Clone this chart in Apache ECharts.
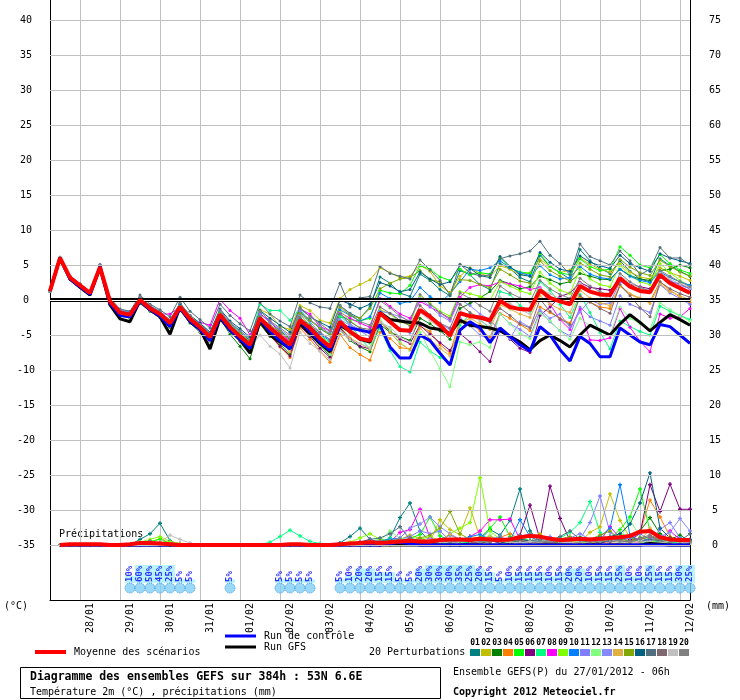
<!DOCTYPE html>
<html>
<head>
<meta charset="utf-8">
<title>Diagramme des ensembles GEFS</title>
<script src="https://cdn.jsdelivr.net/npm/echarts@6/dist/echarts.min.js"></script>
<style>
html, body { margin: 0; padding: 0; background: #fff; }
#chart { width: 740px; height: 700px; }
</style>
</head>
<body>
<div id="chart"></div>
<script>
// echeances : toutes les 6h depuis le run du 27/01/2012 06h (0 -> 384h)
var steps = [];
for (var h = 0; h <= 384; h += 6) steps.push(h + 'h');

// une etiquette par jour (pas 06h)
var dateLabels = ['28/01', '29/01', '30/01', '31/01', '01/02', '02/02', '03/02', '04/02',
                  '05/02', '06/02', '07/02', '08/02', '09/02', '10/02', '11/02', '12/02'];
var tempTicks = [-35, -30, -25, -20, -15, -10, -5, 0, 5, 10, 15, 20, 25, 30, 35, 40];
var mmTicks = [0, 5, 10, 15, 20, 25, 30, 35, 40, 45, 50, 55, 60, 65, 70, 75];

// temperature 2m (degC)
var mean = [1.3, 6.0, 3.2, 2.1, 1.0, 4.7, -0.2, -1.8, -2.1, 0.0, -1.2, -2.0, -3.3, -1.0, -2.7, -3.9, -5.3, -2.1, -3.9, -5.2,
  -6.4, -2.6, -4.0, -5.2, -6.4, -2.9, -4.0, -5.5, -6.7, -3.1, -4.5, -5.5, -5.8, -1.9, -3.1, -4.3, -4.4, -1.4, -2.4, -3.6,
  -5.1, -1.9, -2.3, -2.5, -2.9, -0.1, -1.0, -1.3, -1.4, 1.4, 0.3, -0.2, -0.6, 2.0, 1.2, 0.8, 0.7, 3.1, 1.9, 1.3,
  1.1, 3.6, 2.4, 1.7, 1.0];
var control = [1.3, 6.0, 3.0, 1.9, 0.8, 4.8, -0.5, -2.2, -2.4, -0.2, -1.4, -2.3, -3.8, -1.2, -3.0, -4.2, -5.8, -2.4, -4.3, -5.6,
  -6.9, -2.8, -4.5, -5.8, -7.0, -3.0, -4.5, -6.0, -7.2, -3.6, -4.0, -4.3, -4.6, -3.6, -6.7, -8.3, -8.3, -5.0, -5.8, -7.6,
  -9.3, -4.3, -3.1, -4.0, -6.1, -4.0, -5.2, -6.4, -7.3, -3.8, -5.0, -7.1, -8.7, -5.2, -6.2, -8.1, -8.1, -4.0, -5.0, -6.0,
  -6.4, -3.5, -3.8, -5.0, -6.2];
var gfs = [1.3, 6.0, 3.0, 1.8, 0.7, 4.6, -0.7, -2.7, -3.1, -0.1, -1.4, -2.4, -4.9, -1.0, -3.1, -4.2, -7.0, -2.6, -4.3, -5.7,
  -7.6, -3.0, -5.0, -6.0, -6.9, -3.3, -4.8, -6.2, -7.4, -3.6, -4.5, -5.6, -6.0, -1.8, -2.8, -3.0, -3.2, -3.3, -4.0, -4.2,
  -4.8, -2.9, -3.6, -3.8, -4.0, -4.4, -5.2, -6.0, -7.1, -5.8, -5.0, -5.8, -6.7, -5.0, -3.6, -4.3, -5.0, -3.4, -2.1, -3.2,
  -4.4, -3.2, -2.1, -2.8, -3.6];

var t01 = [1.3, 5.9, 3.4, 2.3, 1.2, 4.9, 0.1, -1.6, -1.9, 0.3, -0.9, -1.8, -3.0, -0.6, -2.4, -3.6, -4.9, -1.6, -3.3, -4.6,
  -5.8, -1.9, -3.2, -4.4, -5.5, -1.8, -2.8, -4.1, -5.0, -0.8, -1.9, -2.6, -1.0, 3.3, 2.4, 1.0, 0.5, 3.7, 2.8, 1.5,
  0.6, 4.2, 3.6, 2.2, 1.5, 5.2, 4.5, 3.2, 2.6, 6.4, 4.8, 3.9, 3.0, 7.2, 5.6, 4.5, 3.8, 5.6, 4.1, 3.0, 2.6, 5.9, 4.9, 4.1, 3.4];
var t02 = [1.3, 6.1, 3.1, 2.0, 0.9, 4.6, -0.3, -2.0, -2.3, -0.2, -1.4, -2.2, -3.5, -1.2, -2.9, -4.1, -5.5, -2.3, -4.1, -5.6,
  -6.9, -1.4, -2.0, -3.8, -4.2, -0.8, -1.5, -2.9, -3.3, 0.2, 1.5, 2.2, 2.9, 4.6, 3.9, 3.2, 3.4, 5.0, 4.1, 2.0,
  1.1, 3.4, 4.6, 3.8, 3.3, 4.9, 4.4, 3.6, 3.9, 5.8, 4.8, 3.9, 4.3, 6.0, 5.1, 4.4, 4.0, 5.2, 4.0, 3.3, 3.0, 4.6, 3.9, 3.4, 2.8];
var t03 = [1.3, 5.9, 3.0, 1.9, 0.8, 4.5, -0.6, -2.2, -2.6, -0.5, -1.6, -2.5, -3.9, -1.5, -3.3, -4.6, -6.3, -2.6, -4.9, -6.6,
  -8.4, -3.5, -5.2, -6.3, -7.8, -3.8, -5.0, -6.5, -8.0, -4.2, -5.8, -6.7, -7.4, -3.5, -4.6, -5.2, -5.8, -2.6, -3.4, -4.4,
  -5.6, -1.2, -0.5, 0.3, 1.2, 2.8, 2.3, 1.6, 1.9, 3.4, 2.9, 2.3, 2.6, 3.8, 3.4, 3.0, 2.9, 4.4, 3.5, 3.0, 2.8, 4.2, 4.4, 5.0, 4.6];
var t04 = [1.3, 6.0, 3.3, 2.2, 1.1, 4.8, -0.1, -1.8, -2.0, 0.1, -1.1, -1.9, -3.2, -0.9, -2.6, -3.8, -5.2, -2.2, -4.1, -5.7,
  -6.8, -3.4, -5.1, -6.7, -8.2, -4.0, -5.6, -7.3, -8.9, -4.9, -6.8, -7.8, -8.6, -4.6, -5.5, -6.8, -7.0, -3.8, -4.5, -6.4,
  -7.6, -2.8, -3.2, -4.4, -5.3, -1.9, -2.6, -3.5, -4.4, -1.0, -1.8, -2.6, -3.3, 0.4, -0.3, -1.0, -1.2, 2.0, 0.8, 0.2, -0.2, 2.6, 1.4, 0.4, -0.4];
var t05 = [1.3, 6.0, 3.2, 2.0, 1.0, 4.7, -0.3, -1.9, -2.2, -0.1, -1.3, -2.1, -3.4, -1.1, -2.8, -4.0, -5.5, -2.2, -4.0, -5.3,
  -6.6, -2.7, -4.3, -5.6, -6.9, -3.1, -4.6, -5.9, -7.1, -2.4, -2.8, -3.0, -2.6, 1.4, 1.0, 0.9, 2.1, 4.9, 4.4, 3.3,
  2.8, 4.4, 3.6, 3.9, 3.7, 6.1, 4.6, 4.0, 3.8, 6.6, 4.8, 3.9, 3.6, 5.9, 4.8, 4.2, 4.4, 7.6, 6.4, 5.0, 4.6, 6.5, 5.2, 4.3, 3.8];
var t06 = [1.3, 6.0, 3.1, 2.0, 0.9, 4.6, -0.4, -2.0, -2.3, -0.2, -1.4, -2.3, -3.6, -1.3, -3.0, -4.3, -5.8, -2.5, -4.4, -5.9,
  -7.1, -3.3, -5.0, -6.6, -8.0, -3.7, -5.2, -6.9, -8.2, -4.0, -5.5, -6.6, -7.0, -3.2, -4.4, -5.6, -6.2, -3.6, -4.9, -6.1,
  -7.2, -4.8, -6.0, -7.4, -8.8, -4.2, -5.6, -6.9, -7.5, -2.2, -1.0, 0.5, 1.0, 2.5, 1.8, 1.6, 1.4, 3.0, 2.2, 1.9, 1.6, 3.2, 2.6, 2.3, 1.6];
var t07 = [1.3, 6.0, 3.2, 2.1, 1.0, 4.8, -0.1, -1.7, -2.0, 0.1, -1.1, -1.9, -3.1, -0.8, -2.5, -3.6, -5.0, -1.8, -3.5, -4.8,
  -5.9, -0.6, -1.5, -1.5, -2.9, -1.2, -3.4, -5.0, -6.1, -2.3, -3.5, -5.4, -7.0, -4.0, -7.2, -9.5, -10.3, -6.0, -7.3, -8.2,
  -9.0, -3.6, -2.0, -2.8, -4.1, 1.2, 0.8, -0.8, -1.6, 2.6, 1.4, -0.6, -2.5, 0.8, -1.8, -4.6, -7.0, -3.0, -3.8, -4.5, -5.0, -0.9, -1.6, -2.2, -2.8];
var t08 = [1.3, 6.0, 3.3, 2.2, 1.1, 4.9, 0.0, -1.7, -2.0, 0.1, -1.0, -2.0, -2.0, -1.0, -3.1, -3.2, -3.6, 0.1, -1.5, -2.6,
  -5.0, -2.0, -3.0, -4.8, -5.9, -1.3, -2.0, -3.8, -4.4, -1.8, -2.6, -3.3, -3.9, 0.2, -0.9, -2.0, -2.6, -0.2, -1.0, -1.8,
  -2.8, 0.4, 1.8, 2.2, 2.0, 2.6, 2.3, 2.0, 1.5, 1.8, -0.6, -2.8, -4.2, -1.3, -5.7, -5.8, -5.4, -1.2, -3.9, -5.9, -7.4, -2.0, -2.6, -2.4, -1.2];
var t09 = [1.3, 6.0, 3.2, 2.1, 1.0, 4.7, -0.3, -1.9, -2.2, 0.0, -1.2, -2.1, -3.4, -1.1, -2.9, -4.2, -5.6, -2.4, -4.1, -5.4,
  -6.7, -2.4, -3.8, -5.0, -6.2, -2.1, -3.6, -5.1, -6.3, -1.5, -3.0, -4.0, -4.6, -1.4, -2.0, -3.1, -3.6, 0.6, -0.5, -1.6,
  -2.3, 1.2, 0.9, 0.5, 0.0, 2.6, 2.0, 1.3, 0.9, 4.0, 2.4, 1.4, 0.9, 4.4, 3.0, 2.2, 1.9, 5.0, 3.5, 2.6, 2.2, 5.2, 3.9, 2.8, 2.0];
var t10 = [1.3, 6.0, 3.2, 2.1, 1.0, 4.7, -0.2, -1.8, -2.1, 0.0, -1.2, -2.0, -3.3, -1.0, -2.8, -4.0, -5.4, -2.0, -3.8, -5.0,
  -6.2, -2.5, -3.9, -5.0, -6.1, -2.6, -3.8, -4.9, -5.8, -1.4, -2.2, -3.0, -2.4, 1.0, 0.2, -0.5, -0.2, 1.8, 0.5, -0.4,
  0.9, 2.6, 4.4, 4.2, 4.6, 5.6, 4.6, 3.9, 3.5, 4.9, 3.6, 3.0, 3.2, 4.8, 3.7, 3.2, 3.0, 4.4, 3.4, 2.8, 2.5, 4.0, 3.2, 2.6, 2.1];
var t11 = [1.3, 6.1, 3.4, 2.3, 1.2, 5.1, 0.2, -1.4, -1.7, 0.4, -0.8, -1.6, -2.9, -0.6, -2.2, -3.4, -4.6, -1.6, -3.3, -4.4,
  -5.5, -2.0, -3.2, -4.2, -5.3, -1.6, -2.9, -3.8, -4.8, -1.9, -3.5, -4.2, -4.8, -1.6, -3.0, -4.1, -4.7, -1.6, -2.5, -3.4,
  -4.2, -2.6, -3.7, -5.0, -5.7, -2.0, -3.4, -4.2, -5.2, -1.6, -3.1, -4.4, -5.1, -1.0, -2.4, -3.0, -3.6, 0.6, -0.6, -1.2, -1.8, 2.2, 1.0, 0.2, -0.6];
var t12 = [1.3, 6.0, 3.2, 2.1, 1.0, 4.7, -0.2, -1.8, -2.1, 0.0, -1.2, -2.0, -3.3, -1.0, -2.7, -4.0, -5.5, -2.4, -4.2, -5.8,
  -7.0, -3.0, -4.6, -5.8, -7.0, -3.4, -5.0, -6.5, -7.8, -3.6, -4.8, -5.6, -6.2, -2.8, -4.3, -6.0, -7.2, -4.6, -7.3, -9.8,
  -12.4, -6.0, -6.4, -6.0, -6.8, -2.0, -3.4, -4.8, -5.5, -1.9, -3.0, -4.4, -5.6, -2.6, -3.7, -4.3, -5.0, -1.0, -2.6, -3.4, -4.2, -0.4, -1.4, -2.3, -3.0];
var t13 = [1.3, 5.9, 3.0, 2.0, 0.9, 4.6, -0.3, -2.0, -2.3, -0.1, -1.3, -2.2, -3.5, -1.1, -2.9, -4.1, -5.7, -2.4, -4.2, -5.6,
  -6.9, -2.9, -4.4, -5.6, -6.9, -2.1, -3.1, -4.7, -5.6, -2.8, -3.6, -4.4, -5.3, -1.6, -1.9, -2.4, -3.0, 0.2, -0.9, -2.2,
  -3.0, 0.1, -0.8, -2.0, -2.8, -4.5, -5.5, -3.1, -3.9, -1.4, -2.6, -2.0, -3.9, -1.7, 0.0, -0.6, -0.4, 2.6, 2.0, 1.4, 1.4, 3.3, 2.8, 2.1, 1.6];
var t14 = [1.3, 6.0, 3.1, 2.0, 1.0, 4.7, -0.3, -1.9, -2.2, -0.1, -1.3, -2.1, -3.4, -1.1, -2.8, -4.0, -5.4, -2.3, -4.1, -5.5,
  -6.8, -3.3, -4.9, -6.1, -7.4, -3.5, -5.0, -6.4, -7.5, -3.8, -5.4, -6.2, -7.0, -3.1, -4.6, -6.2, -7.1, -4.0, -5.6, -6.9,
  -8.0, -3.3, -2.6, -3.4, -4.2, -0.7, -1.3, -2.0, -2.5, 0.6, -0.6, -1.3, -1.8, 1.4, 0.3, -0.4, -0.8, 2.1, 0.9, 0.3, -0.5, 2.3, 1.2, 0.6, 0.0];
var t15 = [1.3, 6.0, 3.3, 2.2, 1.1, 4.8, 0.0, -1.7, -2.0, 0.2, -1.0, -1.9, -3.1, -0.9, -2.6, -3.7, -5.0, -1.9, -3.6, -4.8,
  -6.0, -2.4, -3.6, -4.5, -5.6, -1.9, -2.9, -4.0, -4.9, -1.0, -2.2, -2.6, -1.2, 1.6, 2.4, 3.0, 3.2, 4.2, 2.9, 2.6,
  0.8, 2.9, 2.8, 2.2, 1.8, 4.4, 3.6, 2.7, 2.4, 5.6, 4.2, 3.4, 2.7, 5.3, 4.4, 3.6, 3.3, 5.8, 4.7, 3.9, 3.5, 5.7, 4.8, 4.0, 3.4];
var t16 = [1.3, 6.0, 3.3, 2.2, 1.1, 4.8, 0.1, -1.6, -1.8, 0.3, -0.9, -1.7, -2.9, -0.5, -2.2, -3.3, -4.6, -1.3, -3.0, -4.1,
  -5.3, -1.5, -2.6, -3.6, -4.6, -1.1, -2.4, -3.2, -3.9, 0.0, -0.6, -1.2, -0.6, 2.5, 2.0, 1.2, 1.5, 4.0, 3.0, 2.2,
  2.6, 5.0, 4.5, 3.5, 3.2, 6.2, 4.8, 3.6, 3.4, 6.8, 5.4, 4.4, 4.1, 6.3, 5.4, 4.9, 4.5, 6.4, 5.2, 4.6, 4.1, 6.6, 6.0, 5.6, 5.2];
var t17 = [1.3, 6.0, 3.3, 2.3, 1.2, 5.0, 0.3, -1.3, -1.6, 0.7, -0.6, -1.4, -2.4, 0.4, -1.6, -2.8, -4.0, -0.6, -2.2, -3.4,
  -4.4, -0.4, -2.0, -3.0, -3.8, 0.7, -0.4, -1.0, -1.2, 2.4, -1.0, 0.3, 0.5, 4.8, 3.8, 3.4, 3.0, 5.7, 4.3, 2.8,
  0.7, 5.1, 3.9, 3.4, 3.6, 5.9, 6.3, 6.6, 7.0, 8.4, 6.4, 5.2, 3.6, 8.0, 6.2, 5.6, 5.0, 7.0, 5.6, 3.6, 4.4, 7.5, 6.0, 6.0, 5.0];
var t18 = [1.3, 6.0, 3.2, 2.1, 1.0, 4.7, -0.2, -1.8, -2.1, 0.0, -1.2, -2.0, -3.3, -0.9, -2.6, -3.9, -5.3, -2.0, -3.8, -5.1,
  -6.3, -2.4, -3.7, -4.7, -5.7, -2.5, -3.6, -4.6, -5.7, -2.0, -3.1, -4.0, -4.2, -1.0, -1.9, -2.9, -3.7, -0.8, -2.1, -3.3,
  -4.0, -0.6, -1.8, -2.6, -3.2, -1.2, -2.2, -3.4, -4.0, 0.1, -1.6, -2.7, -3.5, 0.6, -0.3, -1.2, -1.9, 2.2, 0.6, -1.1, -2.4, 2.6, 1.6, 0.9, 0.4];
var t19 = [1.3, 6.0, 3.1, 1.9, 0.8, 4.6, -0.4, -2.1, -2.5, -0.3, -1.5, -2.3, -3.8, -1.3, -3.1, -4.5, -6.1, -2.6, -4.5, -5.0,
  -6.9, -5.0, -6.6, -7.7, -9.7, -4.6, -6.2, -7.3, -8.5, -4.4, -5.7, -6.2, -6.8, -3.2, -3.9, -5.3, -6.0, -1.8, -2.9, -4.0,
  -5.0, -1.6, -2.2, -3.0, -3.8, 0.4, -0.5, -1.4, -2.0, 1.6, 0.9, 0.2, -0.4, 2.4, 1.4, 0.6, 0.2, 3.5, 2.4, 1.7, 1.2, 3.9, 3.0, 2.3, 1.8];
var t20 = [1.3, 6.1, 3.4, 2.2, 1.2, 5.0, 0.1, -1.5, -1.9, 0.4, -0.8, -1.7, -2.9, -0.4, -2.2, -3.5, -4.8, -1.5, -3.2, -4.4,
  -5.6, -1.6, -3.0, -4.0, -5.0, -1.2, -2.4, -3.4, -4.4, -0.8, -2.0, -3.1, -3.6, -0.1, -1.1, -2.3, -3.1, 0.8, -0.6, -1.8,
  -2.6, 1.0, 0.2, -0.8, -1.6, 2.0, 1.0, 0.3, -0.3, 2.8, 1.6, 0.8, 0.2, 3.1, 2.0, 1.2, 0.6, 3.8, 2.6, 1.8, 1.3, 4.2, 3.4, 2.6, 1.9];

// precipitations sur 6h (mm), pas de cumul a l'echeance 0
var rainMean = [null, 0.0, 0.1, 0.1, 0.1, 0.1, 0.0, 0.0, 0.1, 0.3, 0.3, 0.2, 0.1, 0.0, 0.0, 0.0, 0.0, 0.0, 0.0, 0.0,
  0.0, 0.0, 0.0, 0.0, 0.1, 0.1, 0.0, 0.0, 0.0, 0.1, 0.2, 0.3, 0.4, 0.3, 0.4, 0.5, 0.6, 0.5, 0.5, 0.7,
  0.8, 0.8, 0.7, 0.9, 0.8, 0.7, 0.8, 1.1, 1.3, 1.2, 0.9, 0.7, 0.8, 0.9, 0.8, 0.9, 1.0, 1.1, 1.3, 1.9, 2.0, 1.1, 0.8, 0.7, 0.7];
var rainControl = [null, 0, 0, 0, 0, 0, 0, 0, 0, 0, 0, 0, 0, 0, 0, 0, 0, 0, 0, 0, 0, 0, 0, 0, 0, 0, 0, 0, 0, 0,
  0, 0, 0, 0, 0.2, 0.4, 0.2, 0, 0, 0, 0, 0, 0, 0, 0, 0, 0, 0, 0, 0, 0, 0, 0, 0, 0, 0, 0, 0, 0, 0, 0, 0, 0, 0, 0];
var rainGfs = [null, 0, 0, 0, 0, 0, 0, 0, 0, 0, 0, 0, 0, 0, 0, 0, 0, 0, 0, 0, 0, 0, 0, 0, 0, 0, 0, 0, 0, 0,
  0, 0, 0, 0, 0, 0, 0, 0, 0, 0, 0, 0, 0, 0, 0, 0, 0, 0, 0, 0, 0, 0, 0, 0, 0, 0, 0, 0, 0, 0, 0.2, 0.1, 0, 0, 0];

var r01 = [null, 0, 0, 0, 0, 0, 0, 0, 0, 0.8, 1.6, 3.1, 0.6, 0, 0, 0, 0, 0, 0, 0, 0, 0, 0, 0, 0, 0, 0, 0, 0, 0.3,
  1.2, 2.4, 0.8, 0.2, 1.0, 3.9, 6.0, 2.0, 0.5, 0.2, 0, 0, 0.3, 0.8, 2.2, 1.4, 3.5, 8.0, 2.0, 0.4,
  0.2, 0.6, 1.0, 0.4, 0.3, 0.8, 1.0, 0.6, 1.0, 0.5, 0.3, 0.2, 1.2, 0.6, 0.4];
var r02 = [null, 0, 0, 0, 0, 0, 0, 0, 0, 0, 0.4, 0.9, 0.3, 0, 0, 0, 0, 0, 0, 0, 0, 0, 0, 0, 0, 0, 0, 0, 0, 0,
  0, 0.3, 0.6, 0.2, 0, 0.8, 1.4, 0.9, 0.5, 3.6, 2.2, 1.5, 5.3, 1.1, 1.0, 0.4, 0.6, 0.8, 0.5, 1.6,
  0.5, 0.2, 0.3, 0.4, 1.8, 2.6, 7.3, 3.5, 1.0, 0.6, 0.8, 0.4, 0.3, 0.6, 0.2];
var r03 = [null, 0, 0, 0, 0, 0, 0, 0, 0, 0, 0, 0.2, 0, 0, 0, 0, 0, 0, 0, 0, 0, 0, 0, 0, 0, 0, 0, 0, 0, 0,
  0, 0, 0.2, 0.5, 0.3, 0.6, 0.4, 0.8, 0.4, 0.2, 0.4, 0.6, 0.4, 0.2, 0.6, 0.4, 0.2, 0.5, 0.4, 0.3,
  0.2, 0.4, 0.6, 0.3, 0.5, 0.3, 0.6, 0.8, 1.2, 2.0, 3.9, 1.6, 0.8, 1.4, 0.5];
var r04 = [null, 0, 0, 0, 0, 0, 0, 0, 0, 0, 0, 0, 0, 0, 0, 0, 0, 0, 0, 0, 0, 0, 0, 0, 0, 0, 0, 0, 0, 0,
  0, 0, 0, 0.2, 0.4, 0.3, 0.8, 0.6, 0.3, 0.2, 0.5, 0.4, 1.2, 1.0, 0.6, 1.1, 1.6, 0.8, 0.4, 0.3,
  0.2, 0.3, 0.6, 0.4, 0.2, 0.6, 0.3, 0.2, 0.4, 1.8, 6.4, 4.0, 1.2, 0.6, 0.4];
var r05 = [null, 0, 0, 0, 0, 0, 0, 0, 0, 0.4, 0.5, 0.8, 0.2, 0, 0, 0, 0, 0, 0, 0, 0, 0, 0, 0, 0, 0, 0, 0, 0, 0,
  0, 0.2, 0.5, 0.8, 0.6, 0.4, 0.9, 1.5, 4.0, 1.3, 0.6, 0.4, 0.6, 1.0, 2.4, 4.0, 1.2, 0.8, 0.6, 0.4,
  0.3, 0.6, 0.8, 1.1, 0.4, 0.6, 0.9, 2.2, 4.0, 8.0, 2.0, 1.0, 0.5, 0.8, 0.4];
var r06 = [null, 0, 0, 0, 0, 0, 0, 0, 0, 0, 0, 0, 0, 0, 0, 0, 0, 0, 0, 0, 0, 0, 0, 0, 0, 0, 0, 0, 0, 0,
  0, 0, 0, 0, 0.2, 0.4, 0.3, 0.2, 0.2, 0.4, 0.6, 0.3, 0.2, 0.4, 0.6, 0.3, 0.8, 1.4, 5.7, 0.8,
  8.4, 3.8, 0.6, 0.4, 0.2, 0.3, 0.6, 1.2, 0.8, 1.6, 8.6, 4.8, 8.7, 5.1, 5.1];
var r07 = [null, 0, 0, 0, 0, 0, 0, 0, 0, 0, 0, 0, 0, 0, 0, 0, 0, 0, 0, 0, 0, 0, 0.4, 1.2, 2.1, 1.3, 0.5, 0.2, 0, 0,
  0, 0.3, 0.8, 0.4, 1.0, 0.6, 0.4, 0.8, 0.5, 0.3, 0.2, 0.4, 0.3, 0.6, 0.4, 0.8, 0.5, 1.2, 0.6, 0.4,
  0.6, 1.0, 1.8, 3.2, 6.2, 1.8, 0.6, 0.4, 0.5, 0.8, 1.2, 0.6, 0.4, 0.3, 0.6];
var r08 = [null, 0, 0, 0, 0, 0, 0, 0, 0, 0, 0, 0, 0.4, 0.2, 0, 0, 0, 0, 0, 0, 0, 0, 0, 0, 0, 0, 0, 0, 0, 0,
  0.2, 0.4, 0.8, 0.3, 0.4, 1.8, 2.2, 5.1, 1.0, 0.6, 0.3, 0.5, 1.2, 2.0, 3.6, 3.6, 3.7, 0.8, 0.5, 0.4,
  0.3, 0.6, 1.0, 0.8, 0.4, 0.6, 2.6, 1.0, 0.5, 0.4, 1.0, 0.6, 2.0, 0.8, 0.4];
var r09 = [null, 0, 0, 0, 0, 0, 0, 0, 0, 0.4, 0.8, 1.2, 0.5, 0.2, 0, 0, 0, 0, 0, 0, 0, 0, 0, 0, 0, 0, 0, 0, 0, 0,
  0.4, 1.0, 1.6, 0.8, 0.4, 0.6, 0.4, 0.8, 1.2, 0.6, 1.6, 2.4, 3.2, 9.6, 2.0, 0.8, 0.4, 0.6, 0.4, 0.3,
  0.4, 0.8, 0.6, 0.4, 0.3, 0.6, 0.8, 1.6, 1.2, 0.4, 0.6, 0.3, 0.8, 0.4, 0.6];
var r10 = [null, 0, 0, 0, 0, 0, 0, 0, 0, 0, 0, 0, 0, 0, 0, 0, 0, 0, 0, 0, 0, 0, 0, 0, 0, 0, 0, 0, 0, 0,
  0, 0.2, 0.4, 0.6, 0.8, 1.0, 0.6, 0.4, 0.6, 0.8, 1.4, 0.8, 1.2, 1.5, 0.8, 0.4, 0.6, 3.6, 1.2, 0.5,
  0.4, 0.6, 0.8, 0.4, 0.6, 1.2, 2.4, 8.6, 1.4, 0.6, 0.8, 0.4, 0.6, 1.0, 0.3];
var r11 = [null, 0, 0, 0, 0, 0, 0, 0, 0, 0, 0, 0, 0, 0, 0, 0, 0, 0, 0, 0, 0, 0, 0, 0, 0, 0, 0, 0, 0, 0,
  0, 0, 0.3, 0.5, 0.4, 0.8, 1.2, 2.0, 1.6, 2.0, 0.6, 0.4, 0.8, 0.6, 0.4, 0.8, 1.0, 0.6, 0.4, 0.8,
  1.2, 0.6, 0.4, 0.8, 3.2, 7.0, 1.8, 0.8, 0.6, 0.5, 0.6, 2.2, 3.2, 1.0, 0.6];
var r12 = [null, 0, 0, 0, 0, 0, 0, 0, 0, 0, 0, 0, 0, 0, 0, 0, 0, 0, 0, 0, 0, 0, 0, 0, 0, 0, 0, 0, 0, 0,
  0, 0.3, 0.4, 0.6, 2.0, 1.0, 0.6, 0.4, 0.3, 0.5, 0.6, 0.4, 0.6, 0.8, 1.4, 0.6, 0.4, 0.3, 0.5, 0.6,
  0.4, 0.8, 0.6, 0.5, 0.4, 0.6, 1.0, 0.8, 3.6, 1.2, 0.8, 0.5, 0.4, 0.6, 0.3];
var r13 = [null, 0, 0, 0, 0, 0, 0, 0, 0, 0, 0, 0, 0, 0, 0, 0, 0, 0, 0, 0, 0, 0, 0, 0, 0, 0, 0, 0, 0, 0,
  0, 0, 0.2, 0.4, 0.6, 1.0, 2.4, 3.0, 4.0, 2.6, 1.6, 0.8, 0.6, 0.4, 0.8, 1.2, 0.6, 0.4, 0.3, 0.6,
  0.4, 0.6, 1.0, 1.6, 0.8, 0.6, 0.4, 0.8, 1.0, 1.6, 0.8, 1.2, 1.8, 3.8, 2.0];
var r14 = [null, 0, 0, 0, 0, 0, 0, 0, 0, 0, 0, 0, 0, 0, 0, 0, 0, 0, 0, 0, 0, 0, 0, 0, 0, 0, 0, 0, 0, 0,
  0, 0, 0, 0.2, 0.4, 0.3, 0.5, 0.8, 0.4, 0.6, 1.5, 0.6, 0.4, 0.8, 1.2, 0.6, 0.4, 0.6, 0.4, 0.3,
  0.5, 0.8, 0.6, 0.4, 0.6, 0.4, 0.8, 0.6, 0.4, 0.5, 2.4, 1.0, 0.6, 0.4, 0.3];
var r15 = [null, 0, 0, 0, 0, 0, 0, 0, 0, 0, 0, 0, 0, 0, 0, 0, 0, 0, 0, 0, 0, 0, 0, 0, 0, 0, 0, 0, 0, 0,
  0, 0, 0.2, 0.4, 0.6, 0.8, 0.6, 1.0, 1.4, 2.4, 4.8, 1.6, 0.8, 0.6, 0.4, 1.0, 0.6, 0.8, 0.6, 0.4,
  0.6, 0.8, 1.2, 0.6, 0.8, 1.4, 2.0, 0.8, 0.6, 0.8, 1.2, 0.6, 0.4, 0.8, 0.5];
var r16 = [null, 0, 0, 0, 0, 0, 0, 0, 0, 0, 0, 0, 0, 0, 0, 0, 0, 0, 0, 0, 0, 0, 0, 0, 0, 0, 0, 0, 0, 0,
  0, 0, 0, 0.2, 0.4, 0.6, 0.4, 0.3, 0.6, 0.4, 0.3, 0.6, 0.4, 0.8, 0.6, 0.4, 0.6, 0.8, 0.6, 0.4,
  0.6, 0.4, 0.8, 1.0, 0.6, 0.8, 1.2, 1.6, 3.0, 6.0, 10.3, 2.4, 1.0, 0.6, 0.8];
var r17 = [null, 0, 0, 0, 0, 0, 0, 0, 0, 0, 0, 0, 0, 0, 0, 0, 0, 0, 0, 0, 0, 0, 0, 0, 0, 0, 0, 0, 0, 0,
  0, 0.4, 0.8, 1.0, 1.6, 2.6, 0.8, 0.6, 0.4, 0.6, 0.4, 0.8, 0.6, 0.4, 0.8, 1.0, 0.6, 0.4, 0.6, 0.8,
  0.6, 1.2, 2.0, 0.8, 0.6, 0.4, 0.6, 0.8, 1.2, 0.6, 0.8, 0.6, 0.4, 0.6, 1.6];
var r18 = [null, 0, 0, 0, 0, 0, 0, 0, 0, 0, 0, 0, 0, 0, 0, 0, 0, 0, 0, 0, 0, 0, 0, 0, 0, 0, 0, 0, 0, 0,
  0, 0, 0.2, 0.3, 0.4, 0.6, 1.0, 0.6, 0.4, 0.3, 0.5, 0.8, 0.4, 0.3, 0.6, 0.4, 0.8, 0.6, 0.4, 0.3,
  0.4, 0.6, 0.8, 0.6, 0.4, 0.8, 0.6, 0.4, 0.6, 1.0, 1.4, 0.8, 0.6, 0.4, 0.6];
var r19 = [null, 0, 0, 0, 0, 0, 0, 0, 0, 0, 0, 0.4, 1.4, 0.8, 0.3, 0, 0, 0, 0, 0, 0, 0, 0, 0, 0, 0, 0, 0, 0, 0,
  0, 0, 0.2, 0.4, 0.3, 0.5, 0.4, 0.6, 0.8, 0.4, 0.3, 0.5, 0.6, 0.4, 0.8, 0.6, 0.4, 0.3, 0.5, 0.4,
  0.6, 0.4, 0.3, 0.5, 0.4, 0.6, 0.8, 0.4, 0.3, 0.6, 0.4, 0.3, 0.6, 0.4, 0.3];
var r20 = [null, 0, 0, 0, 0, 0, 0, 0, 0, 0.3, 0.6, 0.2, 0, 0, 0, 0, 0, 0, 0, 0, 0, 0, 0, 0, 0, 0, 0, 0, 0, 0,
  0, 0, 0.3, 0.6, 0.4, 0.8, 0.5, 0.4, 0.6, 0.8, 0.4, 0.6, 0.8, 0.5, 0.4, 0.8, 1.0, 1.2, 1.6, 0.6,
  0.4, 0.6, 0.8, 0.6, 0.4, 0.6, 0.8, 0.6, 0.4, 0.8, 1.2, 0.8, 0.6, 0.5, 0.4];

// probabilite de precipitation (%) par echeance
var rainProb = [null, null, null, null, null, null, null, null, 10, 60, 50, 45, 25, 5, 5, null, null, null, 5, null,
  null, null, null, 5, 5, 5, 5, null, null, 5, 10, 20, 20, 15, 15, 5, 5, 20, 30, 30,
  30, 35, 25, 20, 15, 5, 10, 15, 15, 15, 10, 15, 20, 20, 10, 15, 15, 25, 10, 10,
  25, 15, 15, 30, 25];

var pertColors = ['#008080', '#c0c000', '#008000', '#ff8000', '#00ff00', '#800080', '#00ff80', '#ff00ff', '#80ff00', '#0080ff',
                  '#8080ff', '#80ff80', '#8888ff', '#e0b040', '#80a800', '#006080', '#507080', '#806870', '#c0c0c0', '#808080'];
var pertTemp = [t01, t02, t03, t04, t05, t06, t07, t08, t09, t10, t11, t12, t13, t14, t15, t16, t17, t18, t19, t20];
var pertRain = [r01, r02, r03, r04, r05, r06, r07, r08, r09, r10, r11, r12, r13, r14, r15, r16, r17, r18, r19, r20];

var MONO = '"DejaVu Sans Mono", "Liberation Mono", monospace';
var T_MIN = -42.86, T_MAX = 42.86;       // 600px a 7px par degre
var MM_MIN = T_MIN + 35, MM_MAX = T_MAX + 35; // 0 mm au niveau de -35 degC
var PLUS = 'path://M1,0H2V1H3V2H2V3H1V2H0V1H1Z';

var chart = echarts.init(document.getElementById('chart'));

var series = [];
// grille horizontale
series.push({
	type: 'line', data: [], z: 1, silent: true,
	markLine: {
		silent: true, symbol: ['none', 'none'], label: { show: false }, animation: false,
		lineStyle: { color: '#c0c0c0', width: 1, type: 'solid' },
		data: tempTicks.map(function (v) { return { yAxis: v }; })
	}
});
// ligne du zero
series.push({
	type: 'line', data: [], z: 1, silent: true,
	markLine: {
		silent: true, symbol: ['none', 'none'], label: { show: false }, animation: false,
		lineStyle: { color: '#000', width: 4, type: 'solid' },
		data: [{ yAxis: 0 }]
	}
});
series.push({
	type: 'line', data: [], z: 1, silent: true,
	markLine: {
		silent: true, symbol: ['none', 'none'], label: { show: false }, animation: false,
		lineStyle: { color: '#ffffff', width: 1, type: 'solid' },
		data: [{ yAxis: 0 }]
	}
});

pertTemp.forEach(function (d, i) {
	series.push({
		name: 'P' + (i + 1), type: 'line', data: d, z: 2, silent: true,
		symbol: 'circle', symbolSize: 3, showSymbol: true,
		lineStyle: { color: pertColors[i], width: 1 },
		itemStyle: { color: pertColors[i] }
	});
});
pertRain.forEach(function (d, i) {
	series.push({
		name: 'R' + (i + 1), type: 'line', data: d, yAxisIndex: 1, z: 2, silent: true,
		symbol: PLUS, symbolSize: 4, showSymbol: true,
		lineStyle: { color: pertColors[i], width: 1 },
		itemStyle: { color: pertColors[i] }
	});
});
series.push({ name: 'Run GFS', type: 'line', data: gfs, z: 3, silent: true, symbol: 'none', lineStyle: { color: '#000', width: 3 } });
series.push({ name: 'Run GFS pr', type: 'line', data: rainGfs, yAxisIndex: 1, z: 3, silent: true, symbol: 'none', lineStyle: { color: '#000', width: 3 } });
series.push({ name: 'Run de contrôle', type: 'line', data: control, z: 4, silent: true, symbol: 'none', lineStyle: { color: '#0000ff', width: 3 } });
series.push({ name: 'Contrôle pr', type: 'line', data: rainControl, yAxisIndex: 1, z: 4, silent: true, symbol: 'none', lineStyle: { color: '#0000ff', width: 3 } });
series.push({ name: 'Moyenne des scénarios', type: 'line', data: mean, z: 5, silent: true, symbol: 'none', lineStyle: { color: '#ff0000', width: 4 } });
series.push({ name: 'Moyenne pr', type: 'line', data: rainMean, yAxisIndex: 1, z: 5, silent: true, symbol: 'none', lineStyle: { color: '#ff0000', width: 4 } });

// bandeau des probabilites : fond cyan, nuages, pourcentages
var cloudPts = [], probPts = [];
rainProb.forEach(function (p, i) {
	if (p !== null) {
		cloudPts.push([i, -7, p]);
		probPts.push([i, 1.4, p]);
	}
});
// fond cyan : hauteur proportionnelle a la probabilite (25 % et plus = bandeau plein)
series.push({
	type: 'scatter', xAxisIndex: 1, yAxisIndex: 2, data: probPts, silent: true, z: 2, clip: false,
	symbol: 'rect', symbolKeepAspect: false,
	symbolSize: function (v) { return [10, Math.min(v[2], 25) * 0.72]; },
	symbolOffset: function (v) { return [0, -Math.min(v[2], 25) * 0.36 + 1]; },
	itemStyle: { color: '#b8f4ff', opacity: 1 }
});
series.push({
	type: 'scatter', xAxisIndex: 1, yAxisIndex: 2, data: cloudPts, silent: true, z: 3, clip: false,
	symbol: 'circle', symbolSize: 10,
	itemStyle: { color: '#80d0f4', borderColor: '#1f80dd', borderWidth: 1, borderType: 'dotted' }
});
series.push({
	type: 'scatter', xAxisIndex: 1, yAxisIndex: 2, data: probPts, silent: true, z: 4, clip: false,
	symbolSize: 0,
	label: {
		show: true, position: [0, 0], rotate: 90, align: 'left', verticalAlign: 'middle',
		color: '#0000ff', fontFamily: MONO, fontWeight: 'bold', fontSize: 9,
		formatter: function (p) { return p.value[2] + '%'; }
	}
});

// legende et cartouche
var graphic = [
	{ type: 'text', x: 4, y: 606, style: { text: '(°C)', font: '10px ' + MONO, fill: '#000', textVerticalAlign: 'middle' } },
	{ type: 'text', x: 706, y: 606, style: { text: '(mm)', font: '10px ' + MONO, fill: '#000', textVerticalAlign: 'middle' } },
	{ type: 'text', x: 59, y: 534, style: { text: 'Précipitations', font: '10px ' + MONO, fill: '#000', textVerticalAlign: 'middle' } },
	{ type: 'rect', shape: { x: 35, y: 650, width: 31, height: 4 }, style: { fill: '#ff0000' } },
	{ type: 'text', x: 74, y: 652, style: { text: 'Moyenne des scénarios', font: '10px ' + MONO, fill: '#000', textVerticalAlign: 'middle' } },
	{ type: 'rect', shape: { x: 225, y: 634.5, width: 31, height: 3 }, style: { fill: '#0000ff' } },
	{ type: 'text', x: 264, y: 636, style: { text: 'Run de contrôle', font: '10px ' + MONO, fill: '#000', textVerticalAlign: 'middle' } },
	{ type: 'rect', shape: { x: 225, y: 645.5, width: 31, height: 3 }, style: { fill: '#000' } },
	{ type: 'text', x: 264, y: 647, style: { text: 'Run GFS', font: '10px ' + MONO, fill: '#000', textVerticalAlign: 'middle' } },
	{ type: 'text', x: 369, y: 652, style: { text: '20 Perturbations', font: '10px ' + MONO, fill: '#000', textVerticalAlign: 'middle' } },
	{ type: 'rect', shape: { x: 20.5, y: 667.5, width: 420, height: 31 }, style: { fill: 'none', stroke: '#000', lineWidth: 1 } },
	{ type: 'text', x: 30, y: 677, style: { text: 'Diagramme des ensembles GEFS sur 384h : 53N 6.6E', font: 'bold 11.5px ' + MONO, fill: '#000', textVerticalAlign: 'middle' } },
	{ type: 'text', x: 30, y: 692, style: { text: 'Température 2m (°C) , précipitations (mm)', font: '10px ' + MONO, fill: '#000', textVerticalAlign: 'middle' } },
	{ type: 'text', x: 453, y: 672, style: { text: 'Ensemble GEFS(P) du 27/01/2012 - 06h', font: '10px ' + MONO, fill: '#000', textVerticalAlign: 'middle' } },
	{ type: 'text', x: 453, y: 692, style: { text: 'Copyright 2012 Meteociel.fr', font: 'bold 10px ' + MONO, fill: '#000', textVerticalAlign: 'middle' } }
];
pertColors.forEach(function (c, i) {
	var n = (i < 9 ? '0' : '') + (i + 1);
	graphic.push({ type: 'rect', shape: { x: 470 + 11 * i, y: 649, width: 10, height: 7 }, style: { fill: c } });
	graphic.push({ type: 'text', x: 475 + 11 * i, y: 642.5, style: { text: n, font: 'bold 8px ' + MONO, fill: '#000', textAlign: 'center', textVerticalAlign: 'middle' } });
});

var option = {
	backgroundColor: '#ffffff',
	animation: false,
	grid: [
		{ left: 50, right: 50, top: 0, bottom: 100 },
		{ left: 50, right: 50, top: 565, height: 25.2 }
	],
	xAxis: [
		{
			type: 'category', gridIndex: 0, data: steps, boundaryGap: false,
			axisLine: { onZero: false, lineStyle: { color: '#000', width: 1 } },
			axisTick: { show: false },
			splitLine: {
				show: true, lineStyle: { color: '#c0c0c0', width: 1 },
				interval: function (i) { return i % 4 === 3; }
			},
			axisLabel: {
				rotate: 90, margin: 3, color: '#000', fontFamily: MONO, fontSize: 10,
				interval: function (i) { return i > 0 && i % 4 === 0; },
				formatter: function (v, i) { return dateLabels[i / 4 - 1]; }
			}
		},
		{ type: 'category', gridIndex: 1, data: steps, boundaryGap: false, show: false }
	],
	yAxis: [
		{
			type: 'value', gridIndex: 0, position: 'left', min: T_MIN, max: T_MAX,
			axisLine: { show: true, lineStyle: { color: '#000', width: 1 } },
			axisTick: { show: false, customValues: tempTicks },
			splitLine: { show: false },
			axisLabel: { customValues: tempTicks, align: 'center', margin: 24, color: '#000', fontFamily: MONO, fontSize: 10 }
		},
		{
			type: 'value', gridIndex: 0, position: 'right', min: MM_MIN, max: MM_MAX,
			axisLine: { show: true, lineStyle: { color: '#000', width: 1 } },
			axisTick: { show: false, customValues: mmTicks },
			splitLine: { show: false },
			axisLabel: { customValues: mmTicks, align: 'center', margin: 25, color: '#000', fontFamily: MONO, fontSize: 10 }
		},
		// bandeau : le zero est au-dessus des nuages
		{ type: 'value', gridIndex: 1, min: -10, max: 25, show: false }
	],
	graphic: graphic,
	series: series
};
chart.setOption(option);
</script>
</body>
</html>
